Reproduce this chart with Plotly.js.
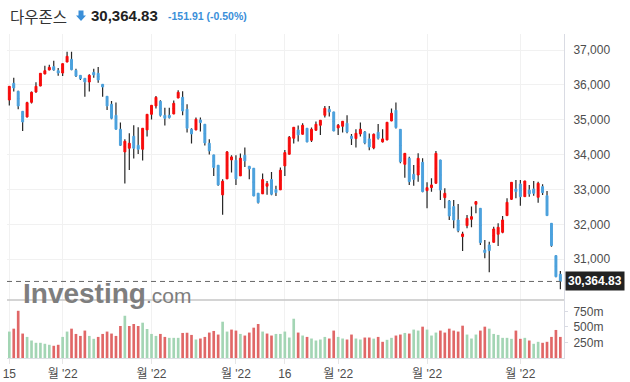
<!DOCTYPE html>
<html><head><meta charset="utf-8">
<script src="https://cdn.plot.ly/plotly-3.0.1.min.js"></script>
<style>html,body{margin:0;padding:0;background:#fff;}#chart{width:630px;height:382px;}</style>
</head><body><div id="chart"></div>
<script>
// ---------- data ----------
const indexName = '다우존스';
const prevClose = 30516.74;

const dates = [
'2021-12-15','2021-12-16','2021-12-17','2021-12-20','2021-12-21','2021-12-22','2021-12-23','2021-12-27','2021-12-28','2021-12-29','2021-12-30','2021-12-31',
'2022-01-03','2022-01-04','2022-01-05','2022-01-06','2022-01-07','2022-01-10','2022-01-11','2022-01-12','2022-01-13','2022-01-14','2022-01-18','2022-01-19','2022-01-20','2022-01-21','2022-01-24','2022-01-25','2022-01-26','2022-01-27','2022-01-28','2022-01-31',
'2022-02-01','2022-02-02','2022-02-03','2022-02-04','2022-02-07','2022-02-08','2022-02-09','2022-02-10','2022-02-11','2022-02-14','2022-02-15','2022-02-16','2022-02-17','2022-02-18','2022-02-22','2022-02-23','2022-02-24','2022-02-25','2022-02-28',
'2022-03-01','2022-03-02','2022-03-03','2022-03-04','2022-03-07','2022-03-08','2022-03-09','2022-03-10','2022-03-11','2022-03-14','2022-03-15','2022-03-16','2022-03-17','2022-03-18','2022-03-21','2022-03-22','2022-03-23','2022-03-24','2022-03-25','2022-03-28','2022-03-29','2022-03-30','2022-03-31',
'2022-04-01','2022-04-04','2022-04-05','2022-04-06','2022-04-07','2022-04-08','2022-04-11','2022-04-12','2022-04-13','2022-04-14','2022-04-18','2022-04-19','2022-04-20','2022-04-21','2022-04-22','2022-04-25','2022-04-26','2022-04-27','2022-04-28','2022-04-29',
'2022-05-02','2022-05-03','2022-05-04','2022-05-05','2022-05-06','2022-05-09','2022-05-10','2022-05-11','2022-05-12','2022-05-13','2022-05-16','2022-05-17','2022-05-18','2022-05-19','2022-05-20','2022-05-23','2022-05-24','2022-05-25','2022-05-26','2022-05-27','2022-05-31',
'2022-06-01','2022-06-02','2022-06-03','2022-06-06','2022-06-07','2022-06-08','2022-06-09','2022-06-10','2022-06-13','2022-06-14'
];

const open = [
35568,36045,35816,35243,35081,35501,35797,35969,36313,36427,36523,36408,
36341,36656,36733,36418,36274,36189,36083,36360,36332,36017,35673,35444,35129,34728,34079,34184,34527,34269,34155,34709,
35157,35396,35530,35129,35129,35167,35625,35644,35301,34728,34709,34995,34871,34327,33993,33697,32847,33305,33849,
33840,33391,33983,33668,33611,32895,32876,33095,33286,32999,32990,33678,34012,34470,34709,34585,34757,34413,34699,34842,35129,35301,35224,
34766,34814,34900,34527,34461,34594,34651,34451,34193,34642,34365,34422,34967,35272,34726,33723,33895,33436,33417,33780,
32968,33054,33178,33847,32768,32672,32510,32127,31650,31965,32147,32576,32462,31268,31411,31487,31717,31774,32252,32720,33016,
33159,32796,32987,33016,32777,33083,32825,32032,31105,30570
];
const high = [
35965,36208,35830,35250,35520,35807,36074,36340,36551,36580,36694,36484,
36615,36952,36952,36465,36280,36195,36303,36465,36513,36025,35680,35539,35492,34919,34441,34613,34842,34785,34765,35165,
35420,35682,35558,35348,35348,35549,35845,35816,35444,34757,35062,35062,34880,34441,34000,33705,33296,34107,33983,
33983,34031,34203,33675,33620,32900,33458,33248,33506,33105,33630,34136,34537,34795,34833,34900,34765,34776,34947,34995,35396,35396,35230,
34881,34965,35129,34594,34728,34919,34680,34604,34604,34881,34728,34935,35320,35492,34735,34045,33943,33704,34038,33895,
33207,33322,34105,33855,33035,32701,32701,32586,31793,32271,32510,32672,32470,31554,31506,31936,32032,32242,32749,33215,33274,
33274,33255,33131,33245,33226,33150,32959,32040,31115,30666
];
const low = [
35406,35807,35301,34680,35062,35463,35778,35960,36305,36420,36408,36265,
36255,36650,36418,36227,36141,35663,35807,36208,36064,35663,35281,35014,34720,34250,33172,33563,33888,34021,33830,34518,
35005,35320,35091,34833,35040,35160,35620,35129,34632,34317,34700,34661,34260,34002,33391,33105,32274,33300,33487,
33133,33385,33649,33296,32810,32599,32870,32847,32838,32818,32985,33391,34005,34317,34374,34578,34358,34365,34690,34566,35062,35091,34672,
34566,34632,34613,34279,34203,34518,34298,34126,34155,34432,34346,34415,34960,34747,33752,33341,33131,33111,33226,32921,
32462,32940,33170,32701,32462,32127,31889,31774,31239,31889,31917,32318,31411,31029,30627,31480,31382,31745,32245,32701,32748,
32538,32790,32796,32825,32624,32844,32245,31363,30484,30140
];
const close = [
35959,35912,35396,34938,35492,35788,35959,36332,36408,36504,36427,36341,
36609,36819,36437,36255,36179,36083,36274,36284,36141,35940,35396,35043,34728,34269,34384,34327,34184,34155,34757,35157,
35415,35644,35129,35043,35062,35472,35788,35253,34757,34594,35014,34919,34336,34107,33631,33133,33238,34079,33935,
33305,33897,33821,33592,32818,32628,33286,33172,32866,32914,33554,34059,34499,34785,34566,34842,34365,34728,34871,34986,35329,35224,34680,
34842,34957,34651,34461,34613,34728,34336,34222,34585,34470,34451,34928,35186,34776,33799,34038,33226,33293,33895,32940,
33054,33131,34038,32987,32892,32242,32127,31822,31726,32175,32223,32653,31478,31191,31249,31869,31917,32127,32634,33207,32940,
32796,33245,32873,32892,33178,32911,32252,31392,30503,30364.83
];
// volume in millions
const volume = [
426,473,761,394,340,282,245,245,229,213,197,213,
340,426,473,388,356,442,356,309,340,388,426,394,356,516,681,516,548,516,569,468,
388,356,388,340,325,325,325,404,407,372,298,314,340,410,436,378,585,426,458,
442,388,362,410,489,548,426,394,362,388,388,426,330,633,410,362,340,314,282,298,340,314,442,
340,314,298,378,314,298,330,330,312,340,261,293,325,362,378,404,394,458,442,505,
458,362,410,442,410,473,442,426,521,378,314,378,442,505,473,388,372,325,325,309,442,
309,325,282,229,261,245,261,340,452,340
];
// volume direction: u = close above previous close, d = below
const volumeDir = [
'u','d','d','d','u','u','u','u','u','u','d','d',
'u','u','d','d','d','d','u','u','d','d','d','d','d','d','u','d','d','d','u','u',
'u','u','d','d','u','u','u','d','d','d','u','d','d','d','d','d','u','u','d',
'd','u','d','d','d','d','u','d','d','u','u','u','u','u','d','u','d','u','u','u','u','d','d',
'u','u','d','d','u','u','d','d','u','d','d','u','u','d','d','u','d','u','u','d',
'u','u','u','d','d','d','d','d','d','u','u','u','d','d','u','u','u','u','u','u','d',
'd','u','d','u','u','d','d','d','d','d'
];

const tickDates = ['2021-12-15','2022-01-03','2022-02-01','2022-03-01','2022-03-16','2022-04-01','2022-05-02','2022-06-01'];
const tickText  = ['15',"월 '22","월 '22","월 '22",'16',"월 '22","월 '22","월 '22"];
const priceTicks = [31000,32000,33000,34000,35000,36000,37000];
const volTicks = [250,500,750];
const volTickText = ['250m','500m','750m'];

// ---------- layout helpers ----------
const W = 630, H = 382;
const M = {l: 7, r: 66, t: 34, b: 24};
const plotW = W - M.l - M.r, plotH = H - M.t - M.b;
const px = x => (x - M.l) / plotW;
const py = y => (H - M.b - y) / plotH;
const volFrac = (H - M.b - 300) / plotH;

const RED = '#f80c0c', BLUE = '#4ca2de';
const WICK = '#262626';
const VOL_UP = '#a3d5b4', VOL_DN = '#e06767';
const textFont = 'Liberation Sans, Arial, Noto Sans CJK KR, sans-serif';

const last = close[close.length - 1];
const change = last - prevClose;
const pct = change / prevClose * 100;
const fmt2 = v => v.toLocaleString('en-US', {minimumFractionDigits: 2, maximumFractionDigits: 2});
const lastText = fmt2(last);
const changeText = (change < 0 ? '-' : '+') + fmt2(Math.abs(change)) + ' (' + (pct < 0 ? '-' : '+') + Math.abs(pct).toFixed(2) + '%)';

const bodyHigh = open.map((o, i) => Math.max(o, close[i]));
const bodyLow = open.map((o, i) => Math.min(o, close[i]));
const bodyMid = open.map((o, i) => (o + close[i]) / 2);

const traces = [
  // wicks: full high-low range, body collapsed to its midpoint (hidden under the bodies)
  {type: 'candlestick', x: dates, open: bodyMid, high: high, low: low, close: bodyMid,
   whiskerwidth: 0, xaxis: 'x', yaxis: 'y', hoverinfo: 'skip', showlegend: false,
   increasing: {line: {color: WICK, width: 1.2}, fillcolor: WICK},
   decreasing: {line: {color: WICK, width: 1.2}, fillcolor: WICK}},
  // bodies
  {type: 'candlestick', x: dates, open: open, high: bodyHigh, low: bodyLow, close: close,
   whiskerwidth: 0, xaxis: 'x', yaxis: 'y', hoverinfo: 'skip', showlegend: false,
   increasing: {line: {color: RED, width: 1}, fillcolor: RED},
   decreasing: {line: {color: BLUE, width: 1}, fillcolor: BLUE}},
  {type: 'bar', x: dates, y: volume, xaxis: 'x', yaxis: 'y2', hoverinfo: 'skip', showlegend: false,
   marker: {color: volumeDir.map(d => d === 'u' ? VOL_UP : VOL_DN)}}
];

const axisFont = {family: textFont, size: 12, color: '#4d4d4d'};

const layout = {
  width: W, height: H,
  margin: M,
  paper_bgcolor: '#fff', plot_bgcolor: '#fff',
  showlegend: false,
  bargap: 0.4,
  boxgap: 0.38,
  boxmode: 'overlay',
  xaxis: {
    type: 'category', categoryorder: 'array', categoryarray: dates,
    range: [-0.52, 124.82], anchor: 'y2',
    tickvals: tickDates, ticktext: tickText, tickfont: axisFont, tickangle: 0,
    showgrid: true, gridcolor: '#f1f1f1', gridwidth: 1,
    showline: true, linecolor: '#dcdde3', linewidth: 1,
    ticks: 'outside', ticklen: 5, tickcolor: '#e6e6e6',
    rangeslider: {visible: false}, fixedrange: true
  },
  yaxis: {
    domain: [volFrac, 1], anchor: 'x', side: 'right',
    range: [29833, 37459],
    tickvals: priceTicks, tickformat: ',d', tickfont: axisFont,
    showgrid: true, gridcolor: '#f1f1f1', gridwidth: 1,
    showline: true, linecolor: '#d9dbe3', linewidth: 1,
    ticks: '', ticklabelstandoff: 6, zeroline: false, fixedrange: true
  },
  yaxis2: {
    domain: [0, volFrac], anchor: 'x', side: 'right',
    range: [0, 935],
    tickvals: volTicks, ticktext: volTickText, tickfont: axisFont,
    showgrid: false,
    showline: true, linecolor: '#d9dbe3', linewidth: 1,
    ticks: 'outside', ticklen: 3, tickcolor: '#d9dbe3',
    ticklabelstandoff: 3, zeroline: false, fixedrange: true
  },
  shapes: [
    {type: 'line', xref: 'paper', x0: 0, x1: 1, yref: 'y', y0: last, y1: last,
     line: {color: '#666', width: 1, dash: '5px,4px'}},
    {type: 'line', xref: 'paper', x0: 0, x1: 1, yref: 'paper', y0: volFrac, y1: volFrac,
     line: {color: '#c6c6c6', width: 1.5}},
    {type: 'path', xref: 'paper', yref: 'paper', xsizemode: 'pixel', ysizemode: 'pixel',
     xanchor: px(81), yanchor: py(15.5),
     path: 'M -2.5 5 L 2.5 5 L 2.5 0 L 5 0 L 0 -5.5 L -5 0 L -2.5 0 Z',
     fillcolor: '#3a8fd9', line: {width: 0}}
  ],
  annotations: [
    {xref: 'paper', yref: 'paper', x: px(8), y: py(15.5), xanchor: 'left', yanchor: 'middle',
     text: indexName, showarrow: false,
     font: {family: 'Noto Sans CJK KR, sans-serif', size: 15.5, color: '#333'}},
    {xref: 'paper', yref: 'paper', x: px(89), y: py(15.5), xanchor: 'left', yanchor: 'middle',
     text: '<b>' + lastText + '</b>', showarrow: false,
     font: {family: textFont, size: 15, color: '#222'}},
    {xref: 'paper', yref: 'paper', x: px(166), y: py(15.5), xanchor: 'left', yanchor: 'middle',
     text: '<b>' + changeText + '</b>', showarrow: false,
     font: {family: textFont, size: 10.5, color: '#3a8fd9'}},
    {xref: 'paper', yref: 'paper', x: px(21), y: py(293), xanchor: 'left', yanchor: 'middle',
     text: '<b>Investing</b><span style="font-size:21px">.com</span>', showarrow: false,
     font: {family: textFont, size: 28, color: '#7e7e7e'}},
    {xref: 'paper', yref: 'y', x: 1, y: last, xanchor: 'left', yanchor: 'middle', xshift: 1,
     text: '<b>' + lastText + '</b>', showarrow: false, bgcolor: '#222', borderpad: 2,
     font: {family: textFont, size: 12, color: '#fff'}}
  ]
};

Plotly.newPlot('chart', traces, layout, {displayModeBar: false, staticPlot: true});
</script>
</body></html>
